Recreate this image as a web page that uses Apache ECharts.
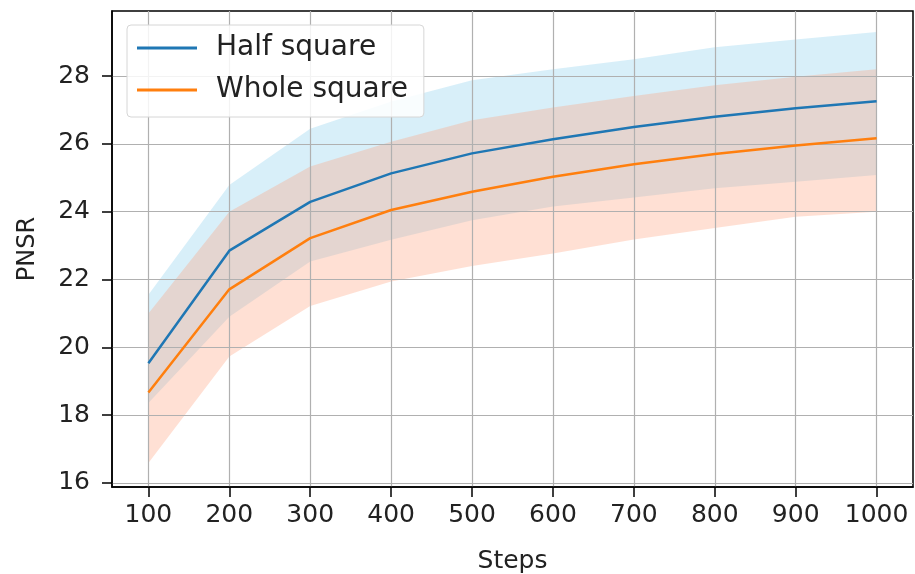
<!DOCTYPE html>
<html>
<head>
<meta charset="utf-8">
<script src="https://cdn.jsdelivr.net/npm/echarts@6/dist/echarts.min.js"></script>
<style>
  html, body { margin: 0; padding: 0; background: #fff; }
  #chart { width: 915px; height: 574px; }
</style>
</head>
<body>
<div id="chart"></div>
<script>
// values
const steps = [100, 200, 300, 400, 500, 600, 700, 800, 900, 1000];
const halfMean  = [19.53, 22.85, 24.29, 25.13, 25.72, 26.14, 26.50, 26.80, 27.05, 27.26];
const halfUpper = [21.55, 24.79, 26.45, 27.25, 27.88, 28.20, 28.50, 28.85, 29.08, 29.30];
const halfLower = [18.36, 20.90, 22.53, 23.17, 23.75, 24.15, 24.42, 24.69, 24.88, 25.08];
const wholeMean  = [18.67, 21.71, 23.22, 24.05, 24.59, 25.03, 25.40, 25.70, 25.95, 26.17];
const wholeUpper = [21.00, 24.00, 25.33, 26.06, 26.70, 27.07, 27.41, 27.73, 27.98, 28.20];
const wholeLower = [16.59, 19.73, 21.22, 21.94, 22.40, 22.77, 23.18, 23.52, 23.85, 24.00];
const yTicks = [16, 18, 20, 22, 24, 26, 28];
const seriesNames = ['Half square', 'Whole square'];

const font = 'DejaVu Sans';
const pairs = (ys) => steps.map((s, i) => [s, ys[i]]);

// shaded band between lower and upper, drawn as one polygon through the axis scales
const bandSeries = (name, lo, hi, color) => ({
    name: name,
    type: 'custom',
    silent: true,
    z: 1,
    data: steps.map((s, i) => [s, lo[i], hi[i]]),
    encode: { x: 0, y: [1, 2] },
    renderItem: (params, api) => {
        if (params.dataIndex !== 0) return;
        const top = steps.map((s, i) => api.coord([s, hi[i]]));
        const bottom = steps.map((s, i) => api.coord([s, lo[i]])).reverse();
        return {
            type: 'polygon',
            shape: { points: top.concat(bottom) },
            style: { fill: color }
        };
    }
});

const mChart = echarts.init(document.getElementById('chart'), null, { renderer: 'canvas' });

const option = {
    animation: false,
    backgroundColor: '#fff',
    textStyle: { fontFamily: font },
    grid: {
        left: 112,
        right: 2,
        top: 11,
        bottom: 87,
        outerBoundsMode: 'none',
        containLabel: false,
        show: true,
        borderColor: '#000',
        borderWidth: 1.5
    },
    legend: {
        data: seriesNames,
        orient: 'vertical',
        left: 127,
        top: 25,
        padding: [8, 16, 12, 10],
        itemGap: 12,
        itemWidth: 60,
        itemHeight: 3,
        icon: 'rect',
        backgroundColor: 'rgba(255,255,255,0.85)',
        borderColor: '#d6d6d6',
        borderWidth: 1,
        borderRadius: 4,
        textStyle: {
            fontFamily: font,
            fontSize: 28,
            color: '#222',
            lineHeight: 30,
            padding: [0, 0, 0, 14]
        }
    },
    xAxis: {
        type: 'value',
        min: 55,
        max: 1045,
        z: 3,
        name: 'Steps',
        nameLocation: 'middle',
        nameGap: 62,
        nameTextStyle: { fontFamily: font, fontSize: 25, color: '#222' },
        axisLine: { show: true, onZero: false, lineStyle: { color: '#000', width: 1.5 } },
        axisTick: { show: true, inside: false, length: 10, customValues: steps, lineStyle: { color: '#000', width: 1.5 } },
        axisLabel: { customValues: steps, formatter: (v) => String(v), margin: 16, fontFamily: font, fontSize: 25, color: '#222' },
        splitLine: { show: true, lineStyle: { color: '#b0b0b0', width: 1.2 } }
    },
    yAxis: {
        type: 'value',
        min: 15.88,
        max: 29.92,
        z: 3,
        name: 'PNSR',
        nameLocation: 'middle',
        nameGap: 72,
        nameTextStyle: { fontFamily: font, fontSize: 24, color: '#222' },
        axisLine: { show: true, onZero: false, lineStyle: { color: '#000', width: 1.5 } },
        axisTick: { show: true, inside: false, length: 10, customValues: yTicks, lineStyle: { color: '#000', width: 1.5 } },
        axisLabel: { customValues: yTicks, margin: 22, fontFamily: font, fontSize: 25, color: '#222' },
        splitLine: { show: true, lineStyle: { color: '#b0b0b0', width: 1.2 } }
    },
    series: [
        bandSeries('half-band', halfLower, halfUpper, 'rgba(135,206,235,0.32)'),
        bandSeries('whole-band', wholeLower, wholeUpper, 'rgba(255,160,122,0.32)'),
        {
            name: seriesNames[0],
            type: 'line',
            data: pairs(halfMean),
            symbol: 'none',
            itemStyle: { color: '#1f77b4' },
            lineStyle: { color: '#1f77b4', width: 2.5 },
            z: 5
        },
        {
            name: seriesNames[1],
            type: 'line',
            data: pairs(wholeMean),
            symbol: 'none',
            itemStyle: { color: '#ff7f0e' },
            lineStyle: { color: '#ff7f0e', width: 2.5 },
            z: 5
        }
    ]
};

mChart.setOption(option);
</script>
</body>
</html>
